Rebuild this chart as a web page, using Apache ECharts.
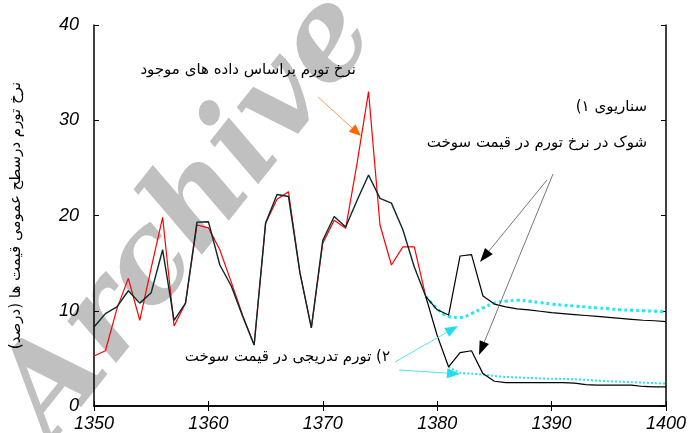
<!doctype html>
<html>
<head>
<meta charset="utf-8">
<title>نرخ تورم</title>
<script src="https://cdn.jsdelivr.net/npm/echarts@6/dist/echarts.min.js"></script>
<style type="text/css">
	html, body { margin: 0; padding: 0; background: #fff; }
	#chart { width: 689px; height: 433px; }
</style>
</head>
<body>
<div id="chart"></div>
<script type="text/javascript">
	// observed period
	var histYears = [1350, 1351, 1352, 1353, 1354, 1355, 1356, 1357, 1358, 1359,
		1360, 1361, 1362, 1363, 1364, 1365, 1366, 1367, 1368, 1369,
		1370, 1371, 1372, 1373, 1374, 1375, 1376, 1377, 1378, 1379];
	var actualRate = [5.25, 5.8, 10.2, 13.4, 9.0, 14.5, 19.8, 8.4, 10.8, 19.0,
		18.7, 16.4, 13.0, 9.5, 6.4, 19.2, 21.7, 22.5, 14.0, 8.2,
		17.1, 19.5, 18.65, 25.5, 33.0, 19.0, 14.8, 16.7, 16.7, 11.5];
	var modelRate = [8.3, 9.7, 10.4, 12.1, 10.8, 11.9, 16.4, 9.0, 10.8, 19.3,
		19.35, 14.8, 12.6, 9.4, 6.4, 19.2, 22.2, 22.0, 14.0, 8.2,
		17.4, 19.9, 18.8, 21.6, 24.25, 21.8, 21.3, 18.5, 14.6, 11.5];

	// scenarios
	var scenYears = [1379, 1380, 1381, 1382, 1383, 1384, 1385, 1386, 1387, 1388, 1389,
		1390, 1391, 1392, 1393, 1394, 1395, 1396, 1397, 1398, 1399, 1400];
	var shockHigh = [11.5, 10.1, 9.55, 15.75, 15.9, 11.55, 10.7, 10.4, 10.2, 10.1, 9.95,
		9.8, 9.7, 9.6, 9.5, 9.4, 9.3, 9.2, 9.1, 9.0, 8.95, 8.85];
	var shockLow = [11.5, 7.4, 4.1, 5.6, 5.8, 3.4, 2.6, 2.45, 2.45, 2.45, 2.45,
		2.45, 2.45, 2.4, 2.25, 2.2, 2.2, 2.2, 2.2, 2.05, 2.0, 2.0];
	var gradualHigh = [11.5, 10.2, 9.4, 9.3, 9.7, 10.3, 10.8, 11.0, 11.1, 11.0, 10.85,
		10.7, 10.6, 10.5, 10.4, 10.3, 10.2, 10.1, 10.05, 10.0, 9.95, 9.9];
	var lowYears = [1381, 1382, 1383, 1384, 1385, 1386, 1387, 1388, 1389,
		1390, 1391, 1392, 1393, 1394, 1395, 1396, 1397, 1398, 1399, 1400];
	var gradualLow = [4.1, 3.5, 3.4, 3.3, 3.15, 3.05, 3.0, 2.95, 2.9,
		2.85, 2.85, 2.8, 2.75, 2.65, 2.6, 2.55, 2.5, 2.45, 2.4, 2.35];

	var RLM = '\u200F';
	var faFont = 'DejaVu Sans';

	function pairs(xs, ys) {
		var out = [];
		for (var i = 0; i < xs.length; i++) {
			out.push([xs[i], ys[i]]);
		}
		return out;
	}

	// line + filled triangle head, pixel coords
	function arrow(x1, y1, x2, y2, stroke, fill, lw, hl, hw) {
		var a = Math.atan2(y2 - y1, x2 - x1);
		var bx = x2 - hl * Math.cos(a), by = y2 - hl * Math.sin(a);
		var nx = -Math.sin(a) * hw / 2, ny = Math.cos(a) * hw / 2;
		return [
			{ type: 'line', z: 50, shape: { x1: x1, y1: y1, x2: bx, y2: by }, style: { stroke: stroke, lineWidth: lw } },
			{ type: 'polygon', z: 50, shape: { points: [[x2, y2], [bx + nx, by + ny], [bx - nx, by - ny]] }, style: { fill: fill } }
		];
	}

	function label(txt, x, y) {
		return {
			type: 'text', z: 60, x: x, y: y,
			style: { text: txt, fontSize: 15, fontFamily: faFont, fill: '#000', align: 'right', verticalAlign: 'middle' }
		};
	}

	var axisStyle = { lineStyle: { color: '#000', width: 1.5 } };
	var tickStyle = { inside: true, length: 5, lineStyle: { color: '#000', width: 1 } };
	var tickFont = { color: '#000', fontSize: 18, fontStyle: 'italic', fontFamily: 'Liberation Sans' };

	// grey watermark behind the plot
	var graphics = [{
		type: 'text', z: -1, x: 190, y: 218, rotation: 0.9,
		style: {
			text: 'Archive', fontSize: 124, fontStyle: 'italic', fontWeight: 'bold',
			fontFamily: '"DejaVu Serif", serif', fill: '#c0c0c0', align: 'center', verticalAlign: 'middle'
		}
	}];
	graphics.push(label(RLM + 'نرخ تورم براساس داده های موجود', 356, 70));
	graphics.push(label('سناریوی ۱)' + RLM, 647, 107));
	graphics.push(label('شوک در نرخ تورم در قیمت سوخت', 647, 143));
	graphics.push(label(RLM + '۲) تورم تدریجی در قیمت سوخت', 390, 357));
	graphics = graphics.concat(
		arrow(318, 97, 361, 136, '#ff9a55', '#ff6600', 1, 12, 10),
		arrow(547, 180, 480, 262, '#555', '#000', 0.8, 14, 10),
		arrow(553, 174, 479, 355, '#555', '#000', 0.8, 14, 10),
		arrow(395, 362, 458, 326, '#55e4f2', '#22ddee', 1, 13, 10),
		arrow(399, 370, 460, 374, '#55e4f2', '#22ddee', 1, 13, 10)
	);

	var myChart = echarts.init(document.getElementById('chart'));
	var option = {
		animation: false,
		grid: { left: 94, right: 19, top: 25, bottom: 27 },
		xAxis: [{
			type: 'value', min: 1350, max: 1400, interval: 10, position: 'bottom',
			axisLine: axisStyle, axisTick: tickStyle, splitLine: { show: false },
			axisLabel: Object.assign({ margin: 9, formatter: function (v) { return String(v); } }, tickFont)
		}, {
			type: 'value', min: 1350, max: 1400, interval: 10, position: 'top',
			axisLine: axisStyle, axisTick: tickStyle, splitLine: { show: false },
			axisLabel: { show: false }
		}],
		yAxis: [{
			type: 'value', min: 0, max: 40, interval: 10, position: 'left',
			axisLine: { show: true, lineStyle: { color: '#000', width: 1.5 } },
			axisTick: tickStyle, splitLine: { show: false },
			axisLabel: Object.assign({ margin: 15 }, tickFont),
			name: 'نرخ تورم درسطح عمومی قیمت ها (درصد)' + RLM,
			nameLocation: 'middle', nameGap: 70,
			nameTextStyle: { color: '#000', fontSize: 15, fontFamily: faFont }
		}, {
			type: 'value', min: 0, max: 40, interval: 10, position: 'right',
			axisLine: { show: true, lineStyle: { color: '#000', width: 1.5 } },
			axisTick: tickStyle, splitLine: { show: false },
			axisLabel: { show: false }
		}],
		graphic: graphics,
		series: [{
			type: 'line', symbol: 'none', z: 3,
			data: pairs(histYears, actualRate),
			lineStyle: { color: '#ff0000', width: 1.2 }
		}, {
			type: 'line', symbol: 'none', z: 4,
			data: pairs(histYears, modelRate),
			lineStyle: { color: '#062a2a', width: 1.4 }
		}, {
			type: 'line', symbol: 'none', z: 3, smooth: 0.4,
			data: pairs(scenYears, gradualHigh),
			lineStyle: { color: '#22e8f2', width: 3, type: 'dotted' }
		}, {
			type: 'line', symbol: 'none', z: 3, smooth: 0.3,
			data: pairs(lowYears, gradualLow),
			lineStyle: { color: '#22e8f2', width: 2, type: 'dotted' }
		}, {
			type: 'line', symbol: 'none', z: 4,
			data: pairs(scenYears, shockHigh),
			lineStyle: { color: '#000', width: 1.2 }
		}, {
			type: 'line', symbol: 'none', z: 4,
			data: pairs(scenYears, shockLow),
			lineStyle: { color: '#000', width: 1.2 }
		}]
	};
	myChart.setOption(option);
</script>
</body>
</html>
